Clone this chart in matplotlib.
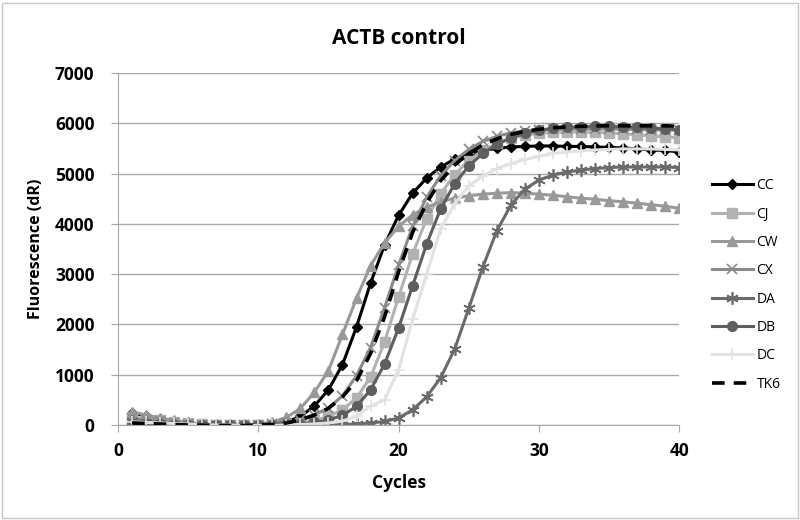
import numpy as np
import matplotlib.pyplot as plt
from matplotlib.patches import Rectangle

plt.rcParams['font.family'] = ['Open Sans', 'DejaVu Sans']

# qPCR amplification data, cycles 1..40
cycles = np.arange(1, 41)

cc = [240, 180, 110, 60, 30, 10, 0, -10, -10, 0,
      20, 60, 170, 380, 700, 1200, 1950, 2820, 3580, 4170,
      4610, 4910, 5130, 5290, 5390, 5460, 5500, 5530, 5540, 5550,
      5550, 5540, 5540, 5530, 5520, 5510, 5490, 5470, 5460, 5430]
cj = [150, 120, 90, 60, 40, 20, 0, -10, -10, -10,
      0, 10, 40, 90, 170, 300, 540, 950, 1650, 2550,
      3400, 4100, 4600, 4980, 5260, 5460, 5600, 5700, 5760, 5800,
      5820, 5830, 5830, 5820, 5810, 5790, 5770, 5750, 5730, 5710]
cw = [260, 200, 140, 90, 50, 20, 0, -10, 0, 20,
      60, 150, 330, 650, 1080, 1800, 2520, 3170, 3620, 3950,
      4180, 4330, 4440, 4510, 4560, 4590, 4610, 4620, 4610, 4590,
      4570, 4540, 4510, 4490, 4460, 4440, 4410, 4380, 4350, 4310]
cx = [130, 100, 70, 40, 20, 0, -10, -10, 0, 0,
      10, 40, 100, 200, 340, 580, 980, 1540, 2330, 3180,
      3950, 4530, 4960, 5260, 5480, 5640, 5740, 5810, 5850, 5870,
      5880, 5890, 5890, 5890, 5890, 5880, 5880, 5870, 5870, 5860]
da = [80, 60, 40, 20, 10, 0, 0, -10, -10, -10,
      -10, -10, -10, 0, 0, 10, 20, 40, 70, 140,
      300, 560, 940, 1510, 2320, 3140, 3860, 4370, 4690, 4870,
      4970, 5030, 5070, 5100, 5120, 5130, 5130, 5130, 5130, 5120]
db = [20, 10, 10, 0, 0, 0, -10, -10, -10, -10,
      0, 10, 20, 50, 100, 190, 370, 700, 1210, 1930,
      2770, 3600, 4300, 4800, 5150, 5400, 5580, 5710, 5800, 5860,
      5900, 5920, 5930, 5940, 5940, 5930, 5920, 5910, 5890, 5870]
dc = [60, 50, 40, 30, 20, 10, 0, 0, -10, -10,
      -10, 0, 10, 20, 40, 80, 170, 380, 500, 1100,
      2100, 3000, 3900, 4400, 4750, 4950, 5100, 5200, 5280, 5340,
      5400, 5430, 5450, 5470, 5480, 5490, 5490, 5490, 5480, 5470]
tk6 = [40, 30, 20, 10, 0, 0, -10, -10, -10, 0,
       10, 40, 100, 200, 330, 560, 880, 1420, 2150, 3050,
       3830, 4420, 4860, 5170, 5400, 5570, 5690, 5780, 5840, 5880,
       5910, 5930, 5940, 5950, 5950, 5950, 5950, 5950, 5950, 5940]

fig = plt.figure(figsize=(8, 5.2), dpi=100)
ax = fig.add_axes([0.1475, 0.1827, 0.7015, 0.6769])

ax.plot(cycles, cc, color='black', lw=2.2, marker='D', ms=5.5, label='CC')
ax.plot(cycles, cj, color='#b2b2b2', lw=2.2, marker='s', ms=6.5, label='CJ')
ax.plot(cycles, cw, color='#999999', lw=2.2, marker='^', ms=7, label='CW')
ax.plot(cycles, cx, color='#8a8a8a', lw=2.2, marker='x', ms=7, mew=1.2, label='CX')
ax.plot(cycles, da, color='#6a6a6a', lw=2.2, marker=(6, 2, 0), ms=9, mew=1.2, label='DA')
ax.plot(cycles, db, color='#5e5e5e', lw=2.2, marker='o', ms=7, label='DB')
ax.plot(cycles, dc, color='#e2e2e2', lw=2.2, marker='+', ms=8, mew=1.2, label='DC')
ax.plot(cycles, tk6, color='black', lw=2.6, ls=(0, (3.5, 2.5)), label='TK6')

ax.set_xlim(0, 40)
ax.set_ylim(0, 7000)
ax.set_xticks([0, 10, 20, 30, 40])
ax.set_yticks(np.arange(0, 7001, 1000))
ax.yaxis.grid(True, color='#a8a8a8', lw=1)
ax.set_axisbelow(True)
for s in ['top', 'right']:
    ax.spines[s].set_visible(False)
ax.spines['left'].set_color('#a8a8a8')
ax.spines['bottom'].set_color('#a8a8a8')
ax.tick_params(axis='both', colors='#a8a8a8', length=5, labelcolor='black',
               labelsize=12.5)
ax.tick_params(axis='y', pad=12)
ax.tick_params(axis='x', pad=7)
for lbl in ax.get_xticklabels() + ax.get_yticklabels():
    lbl.set_fontweight('bold')

ax.set_title('ACTB control', fontsize=15, fontweight='bold', pad=21)
ax.set_xlabel('Cycles', fontsize=12.5, fontweight='bold', labelpad=10)
ax.set_ylabel('Fluorescence (dR)', fontsize=11.5, fontweight='bold', labelpad=8)

fig.legend(loc='center left', bbox_to_anchor=(0.89, 0.452), frameon=False,
           fontsize=10, labelspacing=0.96, handlelength=2.95, handletextpad=0.25,
           borderpad=0, borderaxespad=0)

fig.patches.append(Rectangle((0.003, 0.004), 0.994, 0.99, transform=fig.transFigure,
                             fill=False, edgecolor='#c6c6c6', lw=1))

fig.savefig('out.png', dpi=100)
